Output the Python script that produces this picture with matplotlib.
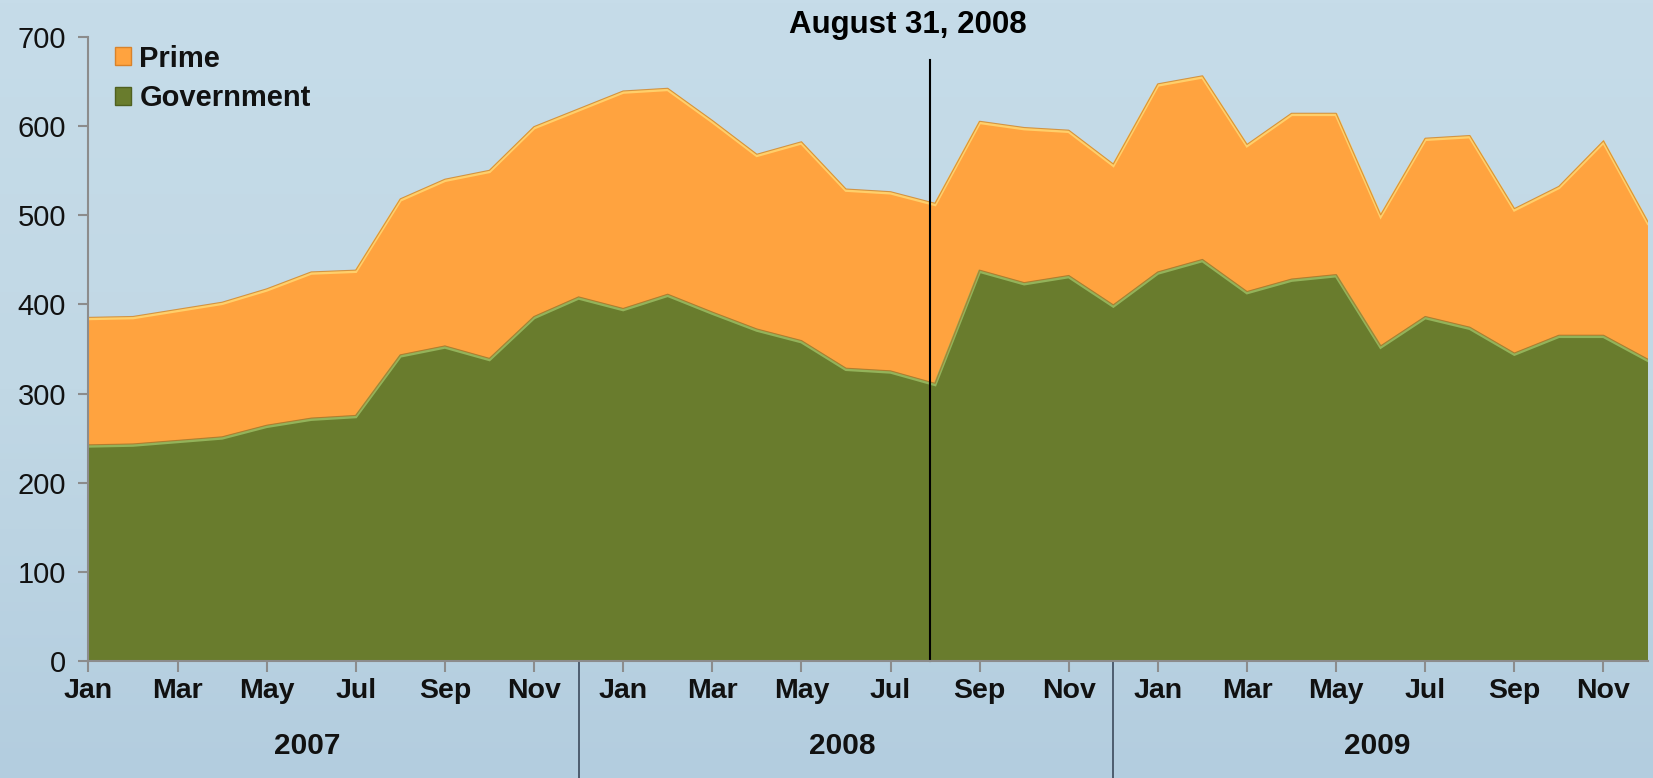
import numpy as np
import matplotlib.pyplot as plt
from matplotlib.patches import Patch
from matplotlib.colors import LinearSegmentedColormap

plt.rcParams['font.family'] = ['Liberation Sans', 'DejaVu Sans']

months = ['Jan', 'Feb', 'Mar', 'Apr', 'May', 'Jun',
          'Jul', 'Aug', 'Sep', 'Oct', 'Nov', 'Dec']
years = ['2007', '2008', '2009']

government = [241, 242, 246, 250, 263, 271, 274, 342, 352, 338, 385, 407,
              394, 410, 390, 371, 358, 327, 324, 310, 437, 423, 431, 398,
              435, 449, 413, 427, 432, 352, 385, 373, 344, 364, 364, 337]
total = [384, 385, 393, 401, 416, 435, 437, 517, 539, 549, 598, 618,
         638, 641, 605, 567, 581, 528, 525, 512, 604, 597, 594, 556,
         646, 655, 578, 613, 613, 499, 585, 588, 506, 531, 582, 491]
prime = [t - g for t, g in zip(total, government)]

event_label = 'August 31, 2008'
event_pos = 18.89

x = np.arange(len(government))

fig = plt.figure(figsize=(16.53, 7.78), dpi=100)

# background gradient
bg = fig.add_axes([0, 0, 1, 1], zorder=-10)
cmap = LinearSegmentedColormap.from_list('sky', ['#c6dce9', '#c1d8e5', '#b3cddf'])
grad = np.linspace(0, 1, 256).reshape(-1, 1)
bg.imshow(grad, aspect='auto', cmap=cmap, extent=[0, 1, 0, 1], origin='upper')
bg.axis('off')

ax = fig.add_axes([0.0535, 0.1504, 0.9435, 0.802])
ax.patch.set_alpha(0)

orange = '#ffa33f'
green = '#697c2d'
ax.stackplot(x, government, prime, colors=[green, orange], linewidth=0)
ax.plot(x, total, color='#ffcf6a', lw=2.2, solid_joinstyle='miter')
ax.plot(x, np.array(total) + 1.5, color='#c77a25', lw=0.8, alpha=0.7)
ax.plot(x, government, color='#93b35a', lw=2.2, solid_joinstyle='miter')
ax.plot(x, np.array(government) + 1.5, color='#b06a20', lw=0.8, alpha=0.7)

ax.set_xlim(0, len(x) - 1)
ax.set_ylim(0, 700)

for s in ['top', 'right']:
    ax.spines[s].set_visible(False)
for s in ['left', 'bottom']:
    ax.spines[s].set_color('#8c8c8c')
    ax.spines[s].set_linewidth(1.5)

ax.set_yticks(range(0, 701, 100))
ax.tick_params(axis='y', colors='#8c8c8c', length=7, width=1.5, pad=9,
               labelsize=21, labelcolor='#111111')
ax.set_xticks(x[::2])
ax.set_xticklabels([months[i % 12] for i in x[::2]], fontweight='bold')
ax.tick_params(axis='x', colors='#8c8c8c', length=8, width=1.5, pad=4,
               labelsize=20.5, labelcolor='#111111')

trans = ax.get_xaxis_transform()
for sep in [11, 23]:
    ax.plot([sep, sep], [0, -0.19], transform=trans, color='#3c4a5c',
            lw=1.2, clip_on=False)
for i, yr in enumerate(years):
    ax.text(4.92 + 12 * i, -0.137, yr, transform=trans, ha='center', va='center',
            fontsize=21.5, fontweight='bold', color='#111111')

ax.plot([event_pos, event_pos], [0, 674], color='black', lw=1.5, clip_on=False)
ax.text(event_pos - 0.5, 714, event_label, ha='center', va='center',
        fontsize=22.5, fontweight='bold', color='black', clip_on=False)

handles = [Patch(facecolor=orange, edgecolor='#d9822a', label='Prime'),
           Patch(facecolor=green, edgecolor='#4f6020', label='Government')]
leg = ax.legend(handles=handles, loc='upper left', bbox_to_anchor=(0.0, 1.03),
                frameon=False, handlelength=0.55, handleheight=0.55,
                handletextpad=0.3, labelspacing=0.4,
                prop={'size': 21, 'weight': 'bold'})
for t in leg.get_texts():
    t.set_color('#111111')

fig.savefig('out.png', dpi=100)
